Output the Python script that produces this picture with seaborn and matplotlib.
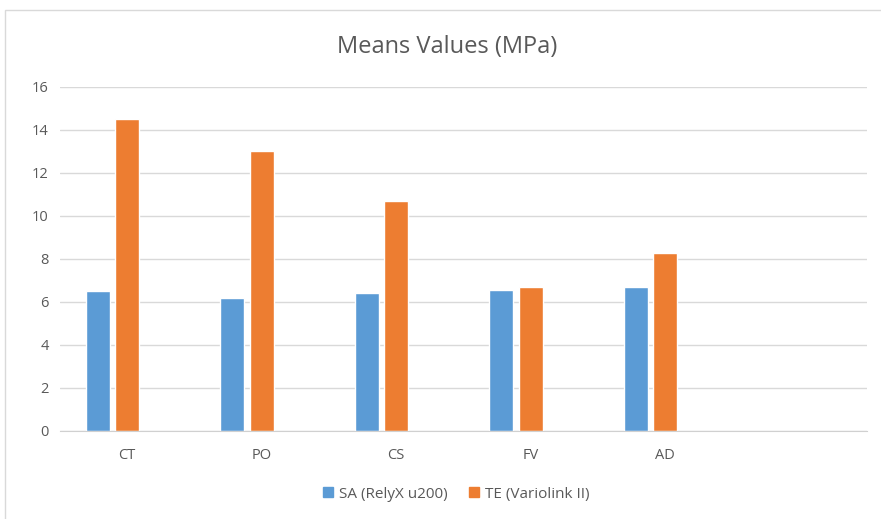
import pandas as pd
import seaborn as sns
import matplotlib.pyplot as plt
from matplotlib.patches import Rectangle, Patch

# data
categories = ["CT", "PO", "CS", "FV", "AD"]
sa_values = [6.5, 6.2, 6.4, 6.55, 6.7]
te_values = [14.5, 13.0, 10.7, 6.7, 8.3]
series = ["SA (RelyX u200)", "TE (Variolink II)"]

df = pd.DataFrame({
    "cat": categories * 2,
    "value": sa_values + te_values,
    "series": [series[0]] * 5 + [series[1]] * 5,
})

sns.set_style("white")
plt.rcParams["font.family"] = ["Open Sans", "DejaVu Sans"]

fig = plt.figure(figsize=(8.81, 5.19), dpi=100)
ax = fig.add_axes([0.068, 0.1696, 0.916, 0.6628])

# third (empty) series slot and sixth (empty) category, as in the Excel original
order = categories + [" "]
hue_order = series + ["_empty"]
colors = {series[0]: "#5B9BD5", series[1]: "#ED7D31", "_empty": "white"}

sns.barplot(data=df, x="cat", y="value", hue="series", order=order,
            hue_order=hue_order, palette=colors, width=0.66, gap=0.19,
            saturation=1, legend=False, ax=ax)

ax.set_ylim(0, 16)
ax.set_xlim(-0.5, 5.5)
ax.set_yticks(range(0, 17, 2))
ax.yaxis.grid(True, color="#d9d9d9", linewidth=1)
ax.set_axisbelow(True)
for s in ["top", "right", "left"]:
    ax.spines[s].set_visible(False)
ax.spines["bottom"].set_color("#d0d0d0")
ax.tick_params(length=0, labelsize=10.5, colors="#595959", pad=8)
ax.tick_params(axis="x", pad=12)
ax.set_xlabel("")
ax.set_ylabel("")

fig.text(0.508, 0.91, "Means Values (MPa)", ha="center", va="center",
         fontsize=17, color="#595959")

handles = [Patch(color=colors[s]) for s in series]
fig.legend(handles, series, loc="center", bbox_to_anchor=(0.518, 0.048),
           ncol=2, frameon=False, fontsize=11, handlelength=0.65,
           handleheight=0.65, handletextpad=0.4, columnspacing=1.4,
           labelcolor="#595959")

# light chart-area frame
fig.patches.append(Rectangle((0.0057, -0.05), 1.1, 1.031, transform=fig.transFigure,
                             fill=False, edgecolor="#d9d9d9", linewidth=1))

fig.savefig("out.png", dpi=100)
